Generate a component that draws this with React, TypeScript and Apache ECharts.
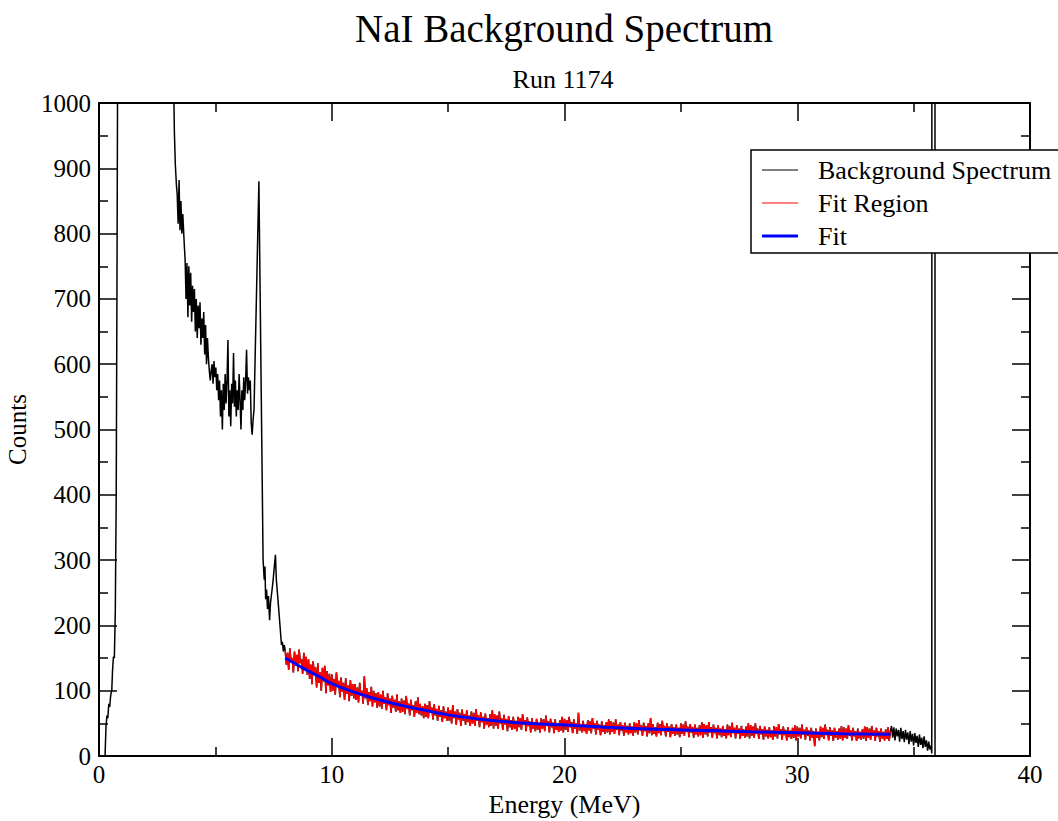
import React, { useEffect, useRef } from 'react';
import * as echarts from 'echarts';

// ---- Data ----
// Background spectrum below the fit region (MeV, counts)
const lowEnergy = [
  0.26, 0.30, 0.34, 0.38, 0.42, 0.46, 0.50, 0.55, 0.58, 0.62, 0.66, 0.70, 0.74, 0.77, 0.80, 0.90,
  1.50, 2.50, 3.10, 3.18, 3.22, 3.24, 3.28, 3.33, 3.36, 3.40, 3.44, 3.48, 3.52, 3.56, 3.60, 3.66,
  3.70, 3.74, 3.78, 3.82, 3.86, 3.90, 3.94, 3.98, 4.02, 4.06, 4.10, 4.14, 4.18, 4.22, 4.26, 4.30,
  4.34, 4.38, 4.42, 4.46, 4.50, 4.54, 4.58, 4.62, 4.66, 4.70, 4.74, 4.78, 4.82, 4.86, 4.90, 4.94,
  4.98, 5.02, 5.06, 5.10, 5.14, 5.18, 5.22, 5.26, 5.30, 5.34, 5.38, 5.42, 5.46, 5.50, 5.54, 5.58,
  5.62, 5.66, 5.70, 5.74, 5.78, 5.82, 5.86, 5.90, 5.94, 5.98, 6.02, 6.06, 6.10, 6.14, 6.18, 6.22,
  6.26, 6.30, 6.34, 6.38, 6.42, 6.46, 6.50, 6.54, 6.58, 6.62, 6.66, 6.87, 7.05, 7.10, 7.13, 7.16,
  7.20, 7.24, 7.28, 7.33, 7.37, 7.42, 7.47, 7.52, 7.58, 7.62, 7.69, 7.78, 7.84, 7.88, 7.92, 7.96,
];
const lowCounts = [
  0, 45, 62, 58, 80, 75, 92, 101, 130, 152, 150, 220, 400, 700, 1050, 2500,
  4000, 3000, 1800, 1300, 1000, 954, 905, 872, 860, 815, 882, 805, 850, 800, 830, 786,
  760, 700, 755, 672, 750, 690, 740, 665, 720, 680, 715, 650, 700, 640, 690, 655,
  695, 630, 670, 640, 680, 615, 660, 600, 640, 610, 590, 575, 590, 600, 570, 605,
  580, 595, 560, 585, 545, 575, 520, 560, 500, 570, 530, 585, 540, 575, 637, 520,
  560, 505, 570, 540, 617, 535, 575, 520, 560, 530, 585, 545, 500, 560, 530, 580,
  545, 575, 622, 555, 580, 560, 575, 510, 492, 515, 530, 880, 300, 270, 290, 240,
  255, 225, 245, 208, 235, 250, 265, 285, 308, 270, 239, 198, 170, 175, 160, 170,
];

// Fit region: 8.00 – 34.00 MeV, bins of 0.05 MeV (one row per MeV)
const fitRegionStart = 8.0;
const fitRegionBin = 0.05;
const fitRegionCounts = [
  162, 140, 158, 132, 165, 145, 150, 128, 160, 138, 155, 130, 163, 142, 148, 126, 158, 135, 152, 124,
  148, 118, 140, 110, 145, 125, 136, 105, 142, 112, 128, 100, 135, 114, 138, 96, 130, 108, 126, 98,
  125, 100, 118, 94, 128, 106, 115, 90, 120, 98, 112, 86, 119, 95, 108, 84, 116, 92, 110, 88,
  110, 86, 105, 82, 112, 92, 100, 80, 122, 88, 104, 78, 98, 84, 106, 76, 100, 82, 96, 74,
  98, 76, 94, 72, 100, 80, 90, 70, 96, 78, 88, 66, 92, 74, 86, 68, 94, 70, 84, 66,
  88, 68, 85, 64, 92, 72, 80, 62, 86, 70, 78, 60, 84, 66, 90, 64, 80, 62, 76, 58,
  80, 60, 78, 58, 84, 66, 74, 56, 79, 62, 72, 54, 77, 60, 70, 52, 76, 58, 68, 54,
  74, 54, 70, 50, 78, 58, 68, 48, 72, 56, 66, 46, 71, 54, 64, 48, 70, 52, 62, 46,
  68, 50, 66, 46, 72, 54, 62, 44, 67, 52, 60, 42, 65, 48, 58, 44, 64, 46, 70, 42,
  64, 46, 62, 42, 68, 50, 58, 40, 63, 48, 56, 38, 61, 44, 55, 40, 60, 42, 54, 38,
  60, 44, 58, 40, 64, 48, 55, 38, 59, 46, 53, 36, 58, 42, 52, 38, 57, 40, 51, 36,
  58, 42, 56, 38, 62, 46, 53, 36, 57, 44, 51, 35, 56, 40, 50, 37, 55, 39, 60, 36,
  57, 40, 55, 37, 60, 44, 52, 35, 56, 42, 50, 34, 66, 39, 49, 36, 54, 38, 48, 34,
  55, 39, 53, 35, 58, 42, 50, 33, 54, 40, 48, 32, 53, 37, 47, 34, 52, 36, 56, 33,
  53, 37, 51, 34, 56, 40, 48, 32, 52, 39, 47, 31, 51, 36, 46, 33, 50, 35, 45, 31,
  52, 36, 50, 33, 55, 39, 47, 31, 51, 38, 46, 30, 50, 35, 58, 32, 49, 34, 44, 30,
  51, 35, 49, 32, 54, 38, 46, 30, 50, 37, 45, 29, 49, 34, 44, 31, 48, 33, 43, 29,
  50, 34, 48, 31, 53, 37, 45, 29, 49, 36, 44, 28, 48, 33, 43, 30, 47, 32, 52, 28,
  49, 33, 47, 30, 52, 36, 44, 28, 48, 35, 43, 27, 47, 32, 42, 29, 46, 31, 41, 27,
  48, 32, 46, 29, 51, 35, 43, 27, 47, 34, 42, 26, 46, 31, 41, 28, 45, 30, 50, 27,
  47, 31, 45, 28, 50, 34, 42, 26, 46, 33, 41, 25, 45, 30, 40, 27, 44, 29, 39, 25,
  46, 30, 44, 27, 49, 33, 41, 25, 45, 32, 40, 24, 44, 29, 39, 26, 43, 28, 47, 24,
  45, 30, 43, 27, 48, 33, 40, 25, 44, 31, 39, 24, 43, 28, 38, 15, 42, 28, 37, 24,
  45, 29, 43, 26, 48, 32, 40, 24, 44, 31, 39, 23, 43, 28, 38, 25, 42, 27, 46, 24,
  44, 28, 42, 26, 47, 31, 39, 24, 43, 30, 38, 23, 42, 27, 37, 25, 41, 27, 45, 23,
  44, 28, 42, 25, 46, 31, 39, 23, 43, 30, 38, 22, 42, 27, 37, 24, 41, 26, 44, 23,
  38,
];

// Background spectrum above the fit region (MeV, counts)
const tailEnergy = [
  34.05, 34.10, 34.15, 34.20, 34.25, 34.30, 34.35, 34.40, 34.45, 34.50, 34.55, 34.60,
  34.65, 34.70, 34.75, 34.80, 34.85, 34.90, 34.95, 35.00, 35.05, 35.10, 35.15, 35.20,
  35.25, 35.30, 35.35, 35.40, 35.45, 35.50, 35.55, 35.60, 35.65, 35.70, 35.75,
  35.78, 35.80, 35.905, 35.92,
];
const tailCounts = [
  46, 28, 44, 24, 42, 30, 40, 22, 43, 26, 38, 21,
  40, 25, 36, 18, 38, 22, 34, 16, 35, 20, 31, 14,
  33, 17, 28, 12, 30, 14, 24, 8, 22, 10, 16,
  4, 6000, 6000, 0,
];

// Fit curve
const fitEnergy = [8, 9, 9.5, 10, 11, 12, 13, 14, 15, 16, 17, 18, 19, 20, 21, 22, 23, 24, 25, 26, 27, 28, 29, 30, 31, 32, 33, 34];
const fitCounts = [150, 130, 121, 111, 97.5, 86.5, 77.5, 70, 63, 58, 54, 51, 49, 47.5, 45.5, 43.5, 42, 41, 40, 39, 38, 37, 36.3, 35.7, 35, 34.2, 33.6, 33.2];

const legendNames = ['Background Spectrum', 'Fit Region', 'Fit'];
const seriesColors = ['#000000', '#ff0000', '#0000ff'];

const FONT = '"Liberation Serif", "Times New Roman", serif';

export default function App() {
  const ref = useRef<HTMLDivElement>(null);
  useEffect(() => {
    if (!ref.current) return;
    const chart = echarts.init(ref.current, null, { renderer: 'svg' });

    const lowPairs = lowEnergy.map((e, i) => [e, lowCounts[i]]);
    const fitRegionPairs = fitRegionCounts.map((c, i) => [
      +(fitRegionStart + i * fitRegionBin).toFixed(3),
      c,
    ]);
    const tailPairs = tailEnergy.map((e, i) => [e, tailCounts[i]]);
    const backgroundPairs = [...lowPairs, ...fitRegionPairs, ...tailPairs];
    const fitPairs = fitEnergy.map((e, i) => [e, fitCounts[i]]);

    const axisCommon = {
      axisLine: { show: true, onZero: false, lineStyle: { color: '#000', width: 2 } },
      axisTick: { show: true, inside: true, length: 18, lineStyle: { color: '#000', width: 1.5 } },
      minorTick: { show: true, splitNumber: 2, length: 9, lineStyle: { color: '#000', width: 1.5 } },
      splitLine: { show: false },
      minorSplitLine: { show: false },
    };

    const legendX = 751;
    const legendY = 150;
    const rowY = [170, 203, 236];
    const legendChildren: any[] = [
      {
        type: 'rect',
        zlevel: 5,
        z: 100,
        shape: { x: legendX, y: legendY, width: 330, height: 103 },
        style: { fill: '#ffffff', stroke: '#000', lineWidth: 1.5 },
      },
    ];
    legendNames.forEach((name, i) => {
      legendChildren.push({
        type: 'line',
        zlevel: 5,
        z: 101,
        shape: { x1: 762, y1: rowY[i], x2: 798, y2: rowY[i] },
        style: { stroke: seriesColors[i], lineWidth: i === 2 ? 3 : 1 },
      });
      legendChildren.push({
        type: 'text',
        zlevel: 5,
        z: 101,
        x: 818,
        y: rowY[i],
        style: {
          text: name,
          font: `26px ${FONT}`,
          fill: '#000',
          textVerticalAlign: 'middle',
          verticalAlign: 'middle',
        },
      });
    });

    const plainLabel = (v: number) => String(v);

    chart.setOption({
      animation: false,
      backgroundColor: '#fff',
      textStyle: { fontFamily: FONT },
      title: [
        {
          text: 'NaI Background Spectrum',
          left: 559,
          top: 4,
          textAlign: 'center',
          textStyle: { fontFamily: FONT, fontSize: 39, fontWeight: 'normal', color: '#000' },
        },
        {
          text: 'Run 1174',
          left: 558,
          top: 61,
          textAlign: 'center',
          textStyle: { fontFamily: FONT, fontSize: 26, fontWeight: 'normal', color: '#000' },
        },
      ],
      grid: { left: 99, right: 28, top: 103, bottom: 65, containLabel: false, outerBoundsMode: 'none' },
      xAxis: [
        {
          type: 'value',
          min: 0,
          max: 40,
          interval: 10,
          position: 'bottom',
          name: 'Energy (MeV)',
          nameLocation: 'middle',
          nameGap: 30,
          nameTextStyle: { fontFamily: FONT, fontSize: 26, color: '#000' },
          axisLabel: { show: true, fontFamily: FONT, fontSize: 25, color: '#000', margin: 6, formatter: plainLabel },
          ...axisCommon,
        },
        {
          type: 'value',
          min: 0,
          max: 40,
          interval: 10,
          position: 'top',
          axisLabel: { show: false },
          ...axisCommon,
        },
      ],
      yAxis: [
        {
          type: 'value',
          min: 0,
          max: 1000,
          interval: 100,
          position: 'left',
          name: 'Counts',
          nameLocation: 'middle',
          nameGap: 60,
          nameRotate: 90,
          nameTextStyle: { fontFamily: FONT, fontSize: 25, color: '#000' },
          axisLabel: { show: true, fontFamily: FONT, fontSize: 25, color: '#000', margin: 8, formatter: plainLabel },
          ...axisCommon,
        },
        {
          type: 'value',
          min: 0,
          max: 1000,
          interval: 100,
          position: 'right',
          axisLabel: { show: false },
          ...axisCommon,
        },
      ],
      series: [
        {
          name: legendNames[0],
          type: 'line',
          data: backgroundPairs,
          showSymbol: false,
          symbol: 'none',
          clip: true,
          lineStyle: { color: seriesColors[0], width: 1.5 },
          z: 2,
        },
        {
          name: legendNames[1],
          type: 'line',
          data: fitRegionPairs,
          showSymbol: false,
          symbol: 'none',
          clip: true,
          lineStyle: { color: seriesColors[1], width: 1.5 },
          z: 3,
        },
        {
          name: legendNames[2],
          type: 'line',
          data: fitPairs,
          smooth: true,
          showSymbol: false,
          symbol: 'none',
          clip: true,
          lineStyle: { color: seriesColors[2], width: 3 },
          z: 4,
        },
      ],
      graphic: { elements: [{ type: 'group', zlevel: 5, z: 100, children: legendChildren }] },
    });
    return () => chart.dispose();
  }, []);

  return (
    <div
      ref={ref}
      style={{ position: 'absolute', left: 0, top: 0, width: 1058, height: 821, background: '#fff' }}
    />
  );
}
